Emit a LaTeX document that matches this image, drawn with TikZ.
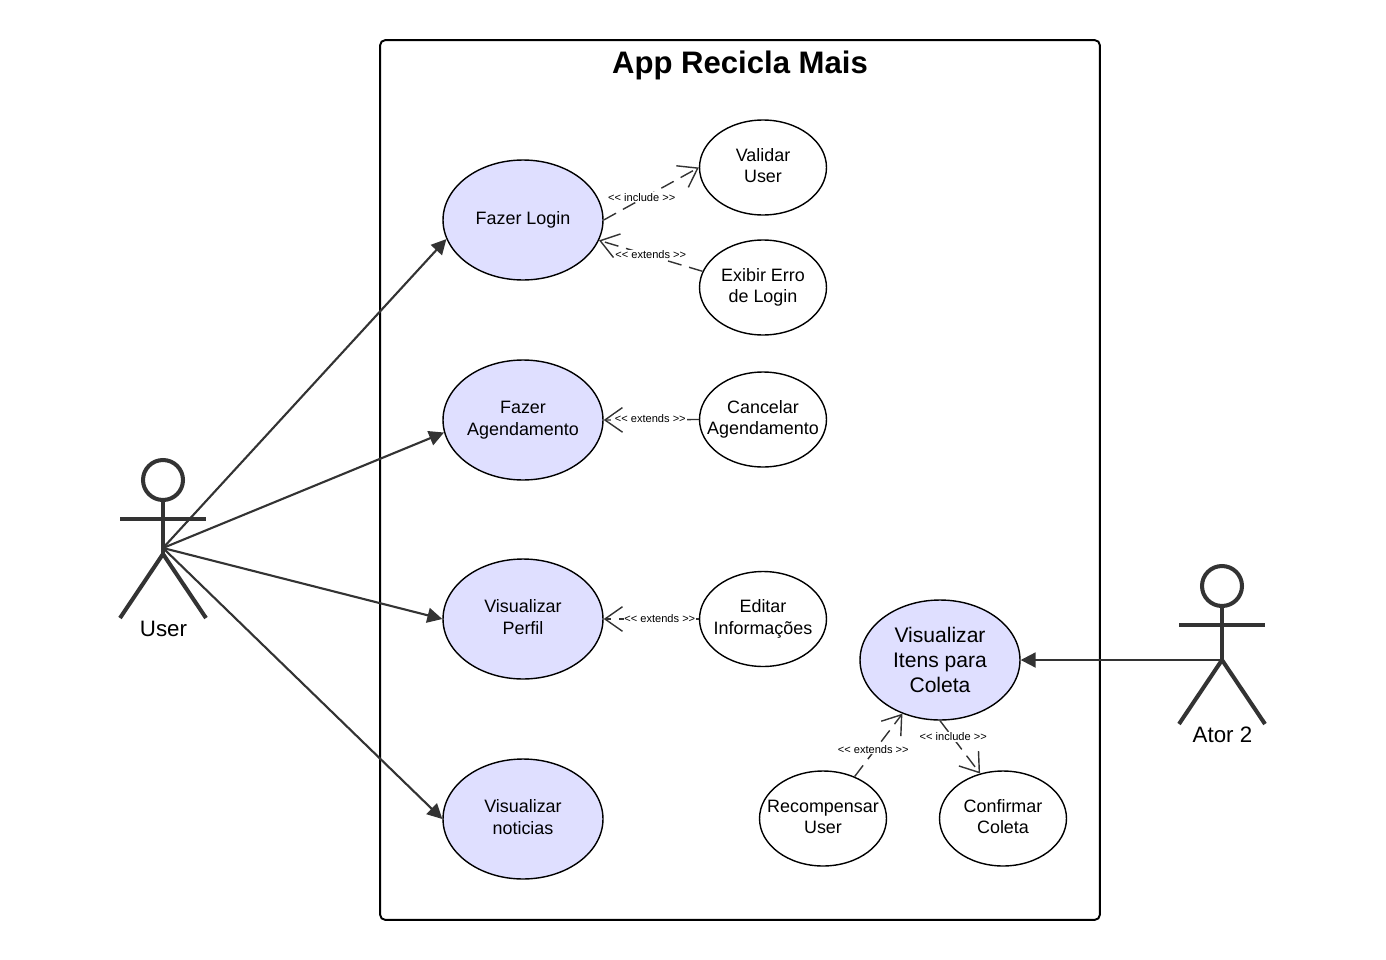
\documentclass[tikz,border=0pt]{standalone}
\usepackage{fontspec}
\setmainfont{Liberation Sans}
\usetikzlibrary{arrows.meta, shapes.geometric}
\definecolor{linegray}{HTML}{333333}
\definecolor{casefill}{HTML}{DFDFFF}
\tikzstyle{usecase}=[ellipse, draw=black, line width=0.8pt, fill=casefill, minimum width=3.2cm, minimum height=2.4cm, inner sep=-30pt, align=center, font=\fontsize{10.2}{12.3}\selectfont]
\tikzstyle{subcase}=[usecase, fill=white, minimum width=2.54cm, minimum height=1.9cm]
\tikzstyle{assoc}=[draw=linegray, line width=1.2pt, -{Triangle[length=8.5pt, width=8.5pt]}]
\tikzstyle{depend}=[draw=linegray, line width=0.8pt, dash pattern=on 8pt off 4.5pt, -{Straight Barb[length=10pt, width=14pt]}]
\tikzstyle{deplabel}=[fill=white, inner sep=0.5pt, font=\fontsize{6.3}{7}\selectfont, text=black]
\tikzstyle{limb}=[draw=linegray, line width=2.3pt]
\newcommand{\usecase}{\node[usecase]}
\newcommand{\subcase}{\node[subcase]}
\newcommand{\twolines}[2]{\begin{tabular}{@{}c@{}}#1\\#2\end{tabular}}
% name, x, y of the head, text
\newcommand{\actor}[4]{
	\node[circle, limb, minimum size=0.8cm, inner sep=0pt] (#1head) at (#2,#3){};
	\coordinate (#1hub) at (#2,#3+68);
	\coordinate (#1hip) at (#2,#3+74);
	\draw[limb] (#1head) -- (#1hip);
	\draw[limb] (#2-43,#3+39) -- (#2+43,#3+39);
	\draw[limb] (#2-43,#3+138) -- (#1hip) -- (#2+43,#3+138);
	\node[font=\fontsize{12.7}{15}\selectfont] (#1name) at (#2+0.5,#3+148.5){#4};}

\begin{document}
\begin{tikzpicture}[x=0.02cm, y=-0.02cm]
\useasboundingbox (0,0) rectangle (1386,960);
%system
\node[draw=black, line width=1.1pt, rounded corners=3pt, minimum width=14.4cm, minimum height=17.6cm, inner sep=0pt] (system) at (740,480){};
\node[font=\fontsize{17.7}{20}\selectfont\bfseries] (title) at (740,65.5){App Recicla Mais};
%actors
\actor{user}{163}{480}{User}
\actor{ator}{1222}{586}{Ator 2}
%use cases
\usecase (login) at (523,220){\raisebox{2.5pt}{Fazer Login}};
\usecase (agenda) at (523,420){\twolines{Fazer}{Agendamento}};
\usecase (perfil) at (523,619){\twolines{Visualizar}{Perfil}};
\usecase (noticias) at (523,819){\twolines{Visualizar}{noticias}};
\usecase[font=\fontsize{12}{14.4}\selectfont] (itens) at (940,660){Visualizar\\Itens para\\Coleta};
%extra cases
\subcase (validar) at (763,167.5){\twolines{Validar}{User}};
\subcase (erro) at (763,287.5){\twolines{Exibir Erro}{de Login}};
\subcase (cancelar) at (763,419.5){\twolines{Cancelar}{Agendamento}};
\subcase (editar) at (763,619){\twolines{Editar}{Informações}};
\subcase (recompensa) at (823,818.5){\twolines{Recompensar}{User}};
\subcase (confirmar) at (1003,818.5){\twolines{Confirmar}{Coleta}};
%associations
\draw[assoc] (userhub) -- (login.194);
\draw[assoc] (userhub) -- (agenda.189);
\foreach \i in {perfil, noticias}{
	\draw[assoc] (userhub) -- (\i.west);}
\draw[assoc] (atorhip) -- (itens.east);
%dependencies
\draw[depend] (login.east) -- node[deplabel, pos=.4, yshift=1pt]{<{}< include >{}>} (validar.west);
\draw[depend] (erro.165) -- node[deplabel, pos=.5, yshift=.5pt]{<{}< extends >{}>} (login.345);
\draw[depend] (cancelar.west) -- node[deplabel, pos=.51, yshift=.5pt]{<{}< extends >{}>} (agenda.east);
\draw[depend] (editar.west) -- node[deplabel, pos=.41]{<{}< extends >{}>} (perfil.east);
\draw[depend] (recompensa.53) -- node[deplabel, pos=.39, yshift=1.7pt]{<{}< extends >{}>} (itens.235);
\draw[depend] (itens.south) -- node[deplabel, pos=.33, yshift=.8pt]{<{}< include >{}>} (confirmar.117);
\end{tikzpicture}
\end{document}
